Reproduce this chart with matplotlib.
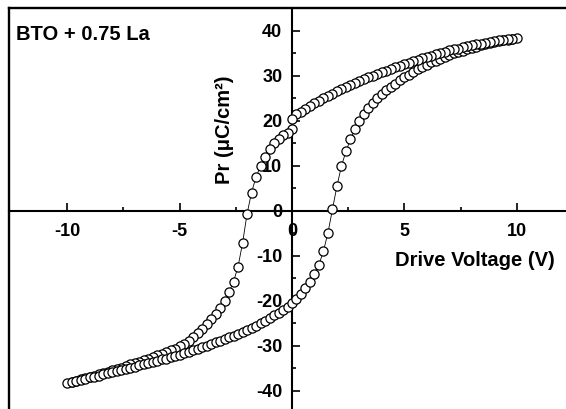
import numpy as np
import matplotlib
matplotlib.use("Agg")
import matplotlib.pyplot as plt
from matplotlib.lines import Line2D

plt.rcParams['font.family'] = ['Liberation Sans', 'DejaVu Sans']
plt.rcParams['font.weight'] = 'bold'
plt.rcParams['axes.unicode_minus'] = False

# Drive voltage sweep: 0 -> -10 -> 0 -> +10 -> 0, 0.2 V steps
v_seg_a = [round(-0.2 * i, 1) for i in range(0, 51)]        # 0 .. -10
v_seg_b = [round(-10 + 0.2 * i, 1) for i in range(1, 51)]   # -9.8 .. 0
v_seg_c = [round(0.2 * i, 1) for i in range(1, 51)]         # 0.2 .. 10
v_seg_d = [round(10 - 0.2 * i, 1) for i in range(1, 51)]    # 9.8 .. 0

# Pr values (uC/cm^2)
pr_seg_a = [18.2, 17.4, 16.8, 16.1, 15.2, 13.8, 12.0, 10.0, 7.5, 4.1,
            -0.7, -7.2, -12.4, -15.7, -18.1, -20.0, -21.6, -22.9, -24.1, -25.2,
            -26.2, -27.2, -28.0, -28.8, -29.5, -30.1, -30.6, -31.0, -31.4, -31.8,
            -32.1, -32.5, -32.8, -33.2, -33.5, -33.8, -34.1, -34.4, -34.8, -35.1,
            -35.4, -35.7, -36.0, -36.3, -36.6, -36.8, -37.1, -37.4, -37.7, -37.9,
            -38.2]
pr_seg_b = [-38.0, -37.7, -37.5, -37.3, -37.0, -36.8, -36.6, -36.3, -36.1, -35.8,
            -35.6, -35.3, -35.1, -34.8, -34.6, -34.3, -34.1, -33.8, -33.5, -33.3,
            -33.0, -32.8, -32.5, -32.2, -31.9, -31.6, -31.3, -31.0, -30.6, -30.3,
            -30.0, -29.6, -29.2, -28.9, -28.5, -28.1, -27.7, -27.3, -26.9, -26.5,
            -26.0, -25.5, -25.0, -24.4, -23.8, -23.2, -22.6, -22.0, -21.3, -20.5]
pr_seg_c = [-19.5, -18.4, -17.2, -15.7, -14.0, -11.9, -8.9, -4.8, 0.4, 5.6,
            10.0, 13.3, 15.9, 18.2, 20.1, 21.6, 22.9, 24.0, 25.0, 25.9,
            26.8, 27.6, 28.3, 29.0, 29.7, 30.3, 30.9, 31.5, 32.0, 32.5,
            33.0, 33.4, 33.8, 34.2, 34.6, 35.0, 35.3, 35.6, 35.9, 36.2,
            36.5, 36.8, 37.0, 37.3, 37.5, 37.7, 37.9, 38.1, 38.3, 38.4]
pr_seg_d = [38.3, 38.2, 38.0, 37.9, 37.7, 37.6, 37.4, 37.2, 37.0, 36.8,
            36.6, 36.4, 36.1, 35.9, 35.7, 35.4, 35.1, 34.8, 34.5, 34.2,
            33.9, 33.6, 33.3, 32.9, 32.6, 32.3, 31.9, 31.6, 31.2, 30.9,
            30.5, 30.1, 29.7, 29.3, 28.9, 28.4, 28.0, 27.5, 27.1, 26.6,
            26.1, 25.6, 25.0, 24.5, 23.9, 23.3, 22.7, 22.1, 21.5, 20.4]

voltage = v_seg_a + v_seg_b + v_seg_c + v_seg_d
pr = pr_seg_a + pr_seg_b + pr_seg_c + pr_seg_d

x_major = [-10, -5, 0, 5, 10]
x_minor = [-7.5, -2.5, 2.5, 7.5]
y_major = [-40, -30, -20, -10, 0, 10, 20, 30, 40]
y_minor = [-35, -25, -15, -5, 5, 15, 25, 35]

W, H = 566, 409
fig = plt.figure(figsize=(W / 100, H / 100), dpi=100)
ax = fig.add_axes([9 / W, 0, 1 - 9 / W, 1 - 8 / H])
ax.set_xlim(-12.58, 12.18)
ax.set_ylim(-44.0, 45.1)

ax.plot(voltage, pr, color='black', lw=0.6, marker='o', ms=6.6,
        mfc='white', mec='black', mew=0.9, zorder=3)

ax.spines['right'].set_visible(False)
ax.spines['top'].set_linewidth(1.7)
ax.spines['left'].set_position(('data', 0))
ax.spines['bottom'].set_position(('data', 0))
ax.spines['left'].set_linewidth(1.5)
ax.spines['bottom'].set_linewidth(1.5)
ax.add_line(Line2D([0, 0], [0, 1], transform=ax.transAxes, color='black',
                   lw=1.7, clip_on=False))

ax.set_xticks(x_major)
ax.set_xticks(x_minor, minor=True)
ax.set_yticks(y_major)
ax.set_yticks(y_minor, minor=True)
ax.xaxis.set_ticks_position('bottom')
ax.yaxis.set_ticks_position('left')
ax.tick_params(axis='both', which='major', direction='in', length=6, width=1.2,
               labelsize=13)
ax.tick_params(axis='both', which='minor', direction='in', length=3, width=1.2)
ax.tick_params(axis='x', which='major', pad=9)
ax.tick_params(axis='y', which='major', pad=7)
for lab in ax.get_xticklabels() + ax.get_yticklabels():
    lab.set_fontweight('bold')

fig.text(16 / W, 1 - 35 / H, 'BTO + 0.75 La', fontsize=14.5, fontweight='bold',
         ha='left', va='center')
fig.text(224 / W, 1 - 130 / H, 'Pr (μC/cm²)', fontsize=14.5, fontweight='bold',
         ha='center', va='center', rotation=90)
fig.text(475 / W, 1 - 261 / H, 'Drive Voltage (V)', fontsize=14.5,
         fontweight='bold', ha='center', va='center')

fig.savefig('out.png', dpi=100)
